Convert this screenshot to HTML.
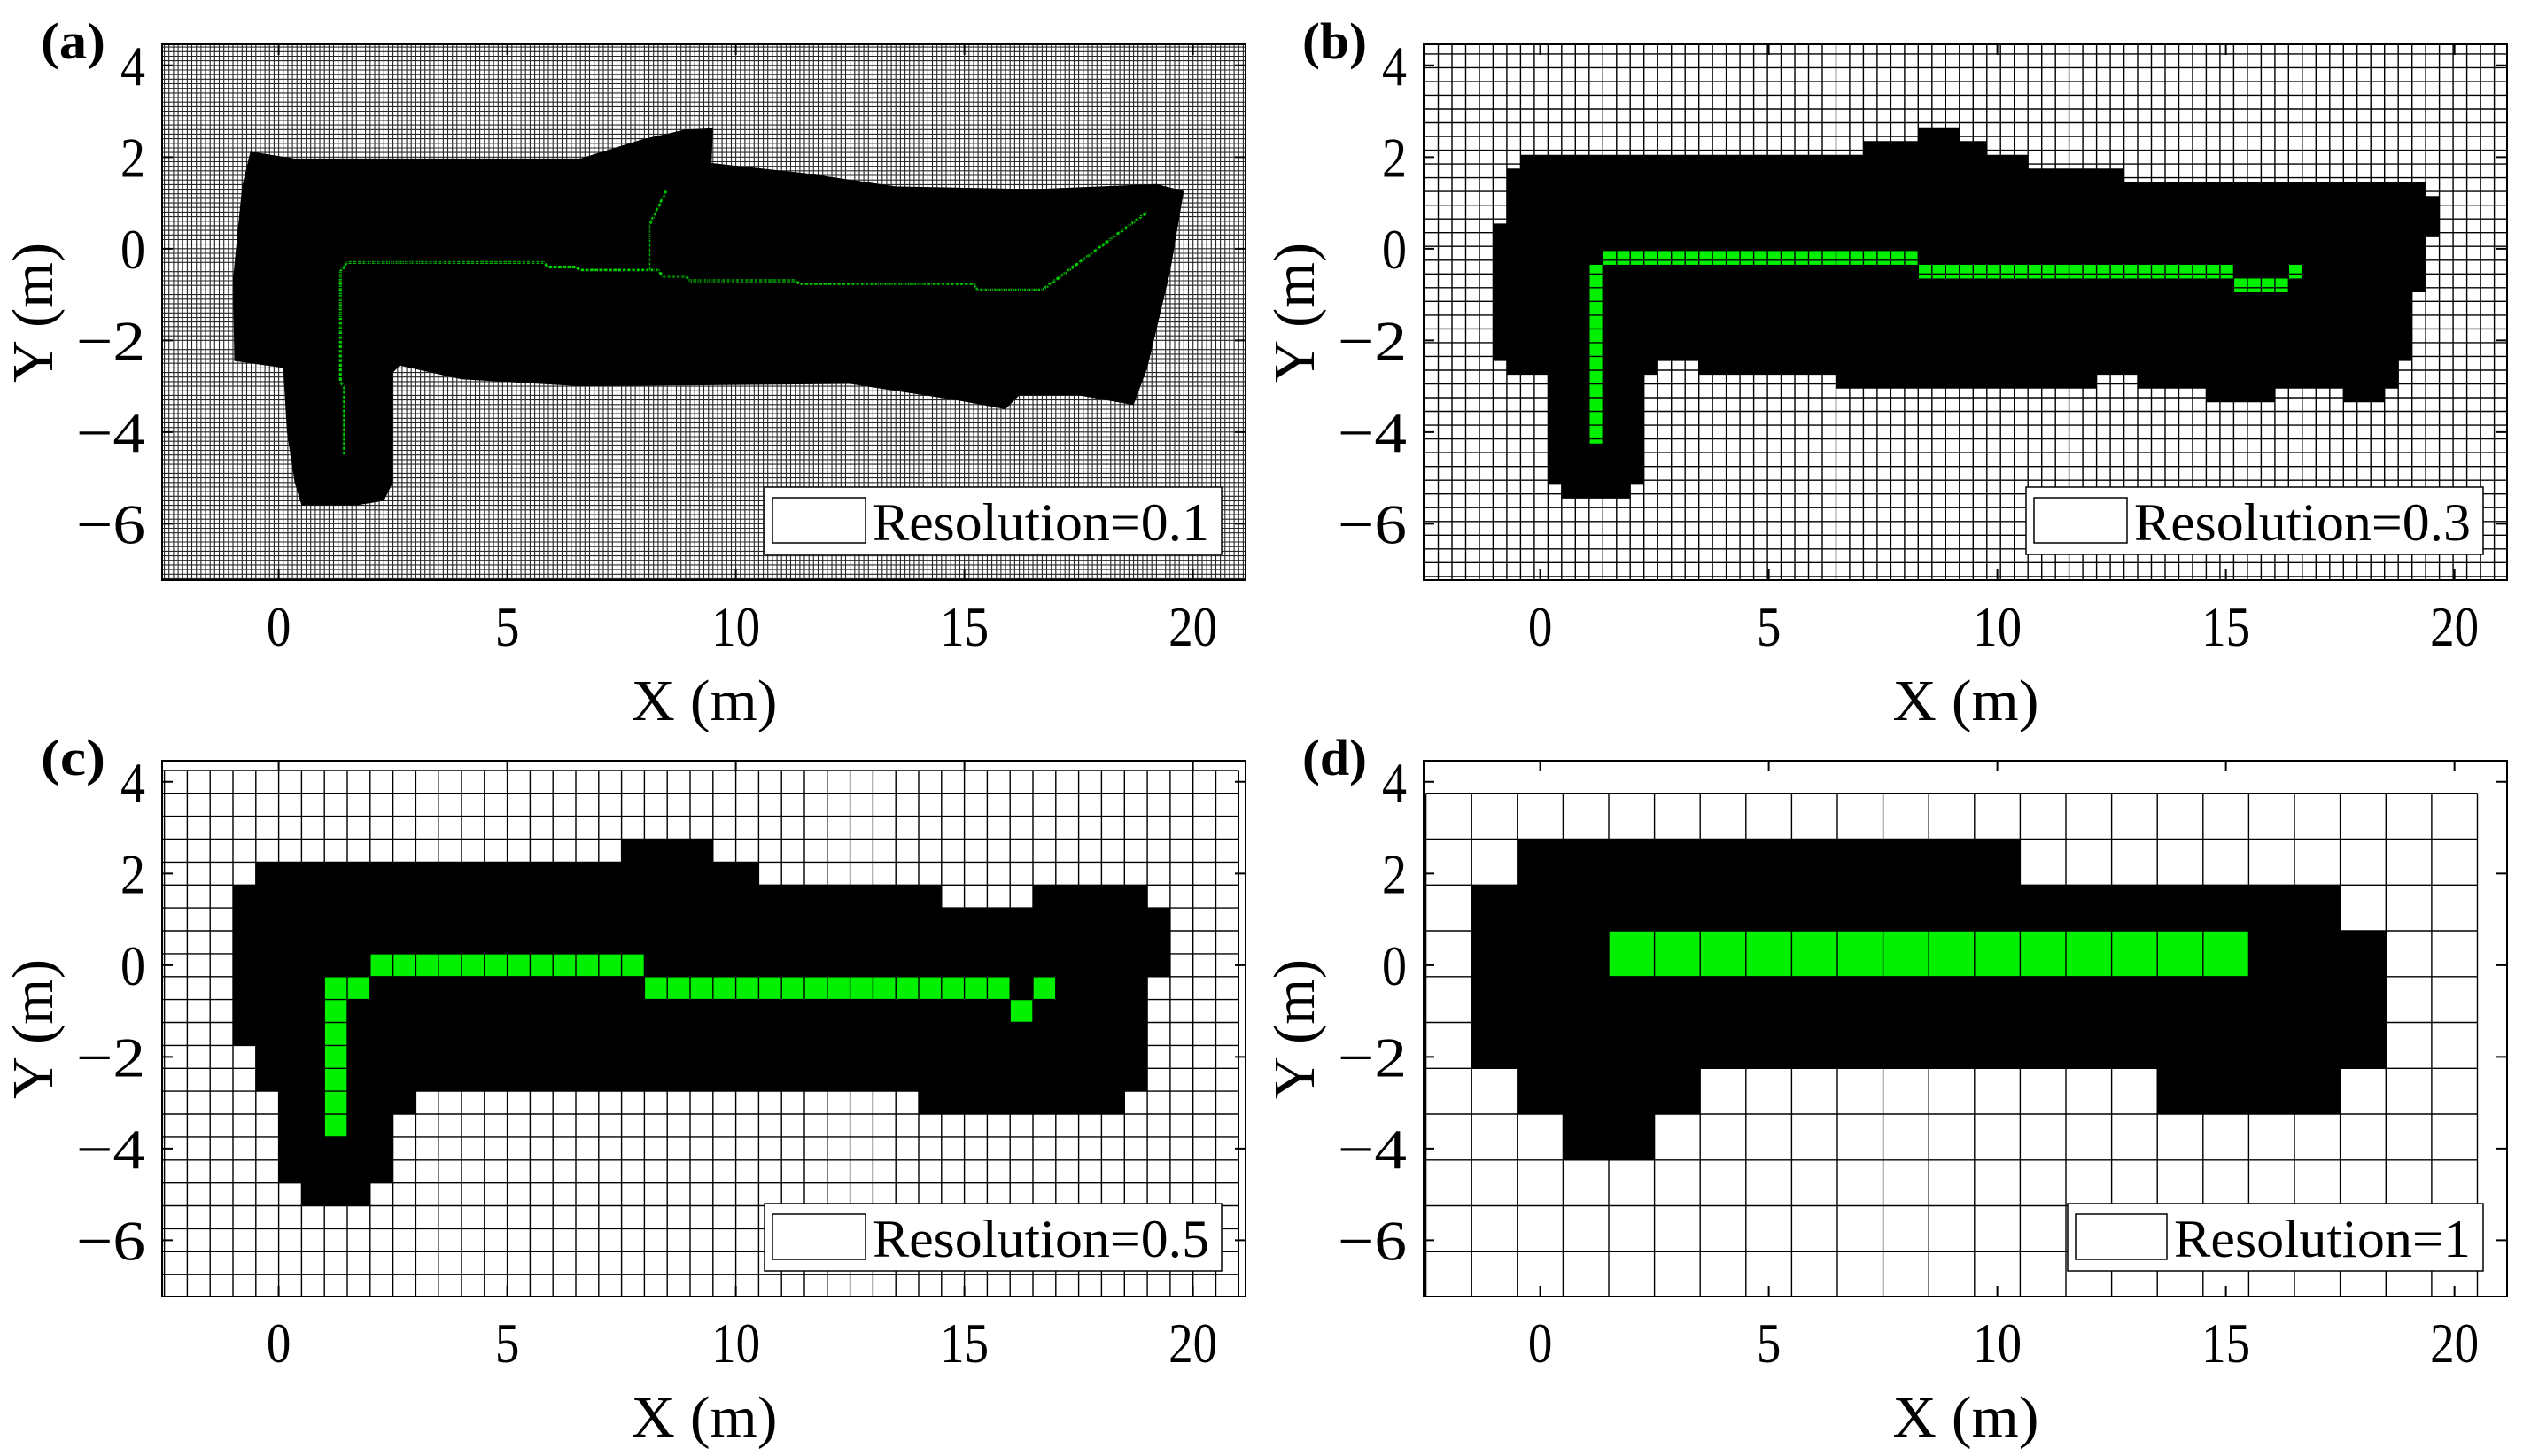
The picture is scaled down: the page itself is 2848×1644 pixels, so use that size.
<!DOCTYPE html>
<html><head><meta charset="utf-8"><style>
html,body{margin:0;padding:0;background:#fff}
svg{display:block}
text{font-family:"Liberation Serif",serif;fill:#000}
</style></head>
<body>
<svg id="fig" xmlns="http://www.w3.org/2000/svg" width="2848" height="1644" viewBox="0 0 2848 1644"></svg>
<script>
// ---- data ----
const xTicks = [0, 5, 10, 15, 20];
const yTicks = [4, 2, 0, -2, -4, -6];
const xTickLabels = ["0", "5", "10", "15", "20"];
const yTickLabels = ["4", "2", "0", "\u22122", "\u22124", "\u22126"];
const panelLabels = ["(a)", "(b)", "(c)", "(d)"];
const resolutions = [0.1, 0.3, 0.5, 1];
const legendTexts = ["Resolution=0.1", "Resolution=0.3", "Resolution=0.5", "Resolution=1"];

// occupied-region outlines (data units)
const occA_x = [-0.62,0.35,6.6,8.0,8.9,9.5,9.47,11.5,13.5,16.5,19.2,19.8,19.5,19.0,18.7,17.5,16.2,15.9,14.8,12.5,6.6,4.0,2.65,2.5,2.5,2.3,1.7,0.5,0.35,0.18,0.1,-0.97,-1.0,-0.8];
const occA_y = [2.12,1.97,1.97,2.4,2.6,2.63,1.87,1.65,1.36,1.3,1.41,1.26,-0.5,-2.6,-3.41,-3.2,-3.2,-3.5,-3.3,-2.95,-3.0,-2.85,-2.55,-2.7,-5.1,-5.5,-5.6,-5.6,-5.1,-4.0,-2.6,-2.45,-0.67,1.36];
const occB_x = [-0.43,7.07,7.07,8.27,8.27,9.17,9.17,9.77,9.77,10.67,10.67,12.77,12.77,19.37,19.37,19.67,19.67,19.37,19.37,19.07,19.07,18.77,18.77,18.47,18.47,17.57,17.57,16.07,16.07,14.57,14.57,13.07,13.07,12.17,12.17,6.47,6.47,3.47,3.47,2.57,2.57,2.27,2.27,1.97,1.97,0.47,0.47,0.17,0.17,-0.73,-0.73,-1.03,-1.03,-0.73,-0.73,-0.43];
const occB_y = [2.05,2.05,2.35,2.35,2.65,2.65,2.35,2.35,2.05,2.05,1.75,1.75,1.45,1.45,1.15,1.15,0.25,0.25,-0.95,-0.95,-2.45,-2.45,-3.05,-3.05,-3.35,-3.35,-3.05,-3.05,-3.35,-3.35,-3.05,-3.05,-2.75,-2.75,-3.05,-3.05,-2.75,-2.75,-2.45,-2.45,-2.75,-2.75,-5.15,-5.15,-5.45,-5.45,-5.15,-5.15,-2.75,-2.75,-2.45,-2.45,0.55,0.55,1.75,1.75];
const occC_x = [-0.5,7.5,7.5,9.5,9.5,10.5,10.5,14.5,14.5,16.5,16.5,19,19,19.5,19.5,19,19,18.5,18.5,14,14,3,3,2.5,2.5,2,2,0.5,0.5,0,0,-0.5,-0.5,-1,-1,-0.5];
const occC_y = [2.25,2.25,2.75,2.75,2.25,2.25,1.75,1.75,1.25,1.25,1.75,1.75,1.25,1.25,-0.25,-0.25,-2.75,-2.75,-3.25,-3.25,-2.75,-2.75,-3.25,-3.25,-4.75,-4.75,-5.25,-5.25,-4.75,-4.75,-2.75,-2.75,-1.75,-1.75,1.75,1.75];
const occD_x = [-0.5,10.5,10.5,17.5,17.5,18.5,18.5,17.5,17.5,13.5,13.5,3.5,3.5,2.5,2.5,0.5,0.5,-0.5,-0.5,-1.5,-1.5,-0.5];
const occD_y = [2.75,2.75,1.75,1.75,0.75,0.75,-2.25,-2.25,-3.25,-3.25,-2.25,-2.25,-3.25,-3.25,-4.25,-4.25,-3.25,-3.25,-2.25,-2.25,1.75,1.75];

// planned path (a) as vertices
const pathA_x = [1.42,1.42,1.35,1.35,1.5,5.8,5.9,6.5,6.6,8.3,8.4,8.9,9.0,11.3,11.4,15.2,15.3,16.7,19.0];
const pathA_y = [-4.5,-3.0,-2.9,-0.5,-0.3,-0.3,-0.4,-0.4,-0.47,-0.47,-0.6,-0.6,-0.7,-0.7,-0.77,-0.77,-0.9,-0.9,0.8];
const branchA_x = [8.1,8.1,8.5];
const branchA_y = [-0.47,0.5,1.3];

// path cell runs (x0,x1,y0,y1) for b, c, d
const pathB_x0 = [1.07,1.37,8.27,15.17,16.37];
const pathB_x1 = [1.37,8.27,15.17,16.37,16.67];
const pathB_y0 = [-4.25,-0.35,-0.65,-0.95,-0.65];
const pathB_y1 = [-0.35,-0.05,-0.35,-0.65,-0.35];
const pathC_x0 = [1,1.5,2,8,16,16.5];
const pathC_x1 = [1.5,2,8,16,16.5,17];
const pathC_y0 = [-3.75,-0.75,-0.25,-0.75,-1.25,-0.75];
const pathC_y1 = [-0.25,-0.25,0.25,-0.25,-0.75,-0.25];
const pathD_x0 = [1.5];
const pathD_x1 = [15.5];
const pathD_y0 = [-0.25];
const pathD_y1 = [0.75];

// ---- layout ----
const NS = "http://www.w3.org/2000/svg";
const svg = document.getElementById("fig");
const XMIN = -2.55, XMAX = 21.15, YMIN = -7.23, YMAX = 4.46;
const W = 1223, H = 605;
const panels = [
  {L:183, T:50, occX:occA_x, occY:occA_y, xoff:0, yoff:0, gx:[XMIN,XMAX], gy:[YMIN,YMAX], legX:863, legW:516, sw:105},
  {L:1607, T:50, occX:occB_x, occY:occB_y, xoff:0.17, yoff:0.05, gx:[XMIN,XMAX], gy:[YMIN,YMAX], legX:863, legW:516, sw:105,
   px0:pathB_x0, px1:pathB_x1, py0:pathB_y0, py1:pathB_y1},
  {L:183, T:859, occX:occC_x, occY:occC_y, xoff:0, yoff:0.25, gx:[XMIN,21.0], gy:[-7.25,4.25], legX:863, legW:516, sw:105,
   px0:pathC_x0, px1:pathC_x1, py0:pathC_y0, py1:pathC_y1},
  {L:1607, T:859, occX:occD_x, occY:occD_y, xoff:0.5, yoff:0.75, gx:[-2.5,20.5], gy:[-7.25,3.75], legX:910, legW:469, sw:103,
   px0:pathD_x0, px1:pathD_x1, py0:pathD_y0, py1:pathD_y1}
];
function mk(tag, attrs, parent){const e=document.createElementNS(NS,tag);for(const k in attrs)e.setAttribute(k,attrs[k]);(parent||svg).appendChild(e);return e;}

panels.forEach((p, i) => {
  const sx = x => p.L + (x - XMIN) * W / (XMAX - XMIN);
  const sy = y => p.T + (YMAX - y) * H / (YMAX - YMIN);
  const g = mk("g", {});
  
  
  const clip = mk("clipPath", {id:"clip"+i}, g);
  mk("rect", {x:p.L, y:p.T, width:W, height:H}, clip);
  const plot = mk("g", {"clip-path":"url(#clip"+i+")"}, g);
  // occupied region
  const pts = p.occX.map((x, k) => sx(x).toFixed(1) + "," + sy(p.occY[k]).toFixed(1)).join(" ");
  const occ = mk("polygon", {points:pts, fill:"#000"}, plot);
  
  
  // path
  if (i === 0) {
    [[pathA_x, pathA_y], [branchA_x, branchA_y]].forEach(([xs, ys]) => {
      const pl = mk("polyline", {points: xs.map((x,k)=>sx(x).toFixed(1)+","+sy(ys[k]).toFixed(1)).join(" "),
        fill:"none", stroke:"#00d000", "stroke-width":3.2, "stroke-dasharray":"4 1.3"}, plot);
      
      
    });
  } else {
    p.px0.forEach((x0, k) => {
      const r = mk("rect", {x:sx(x0), y:sy(p.py1[k]), width:sx(p.px1[k])-sx(x0), height:sy(p.py0[k])-sy(p.py1[k]), fill:"#00f000"}, plot);
      
      
    });
  }
  // grid
  const res = resolutions[i];
  let d = "";
  const x0 = p.gx[0], x1 = p.gx[1], y0 = p.gy[0], y1 = p.gy[1];
  for (let k = Math.ceil((x0 - p.xoff)/res - 1e-6); p.xoff + k*res <= x1 + 1e-6; k++) {
    const X = sx(p.xoff + k*res).toFixed(1);
    d += "M" + X + " " + sy(y0).toFixed(1) + "V" + sy(y1).toFixed(1);
  }
  for (let k = Math.ceil((y0 - p.yoff)/res - 1e-6); p.yoff + k*res <= y1 + 1e-6; k++) {
    const Y = sy(p.yoff + k*res).toFixed(1);
    d += "M" + sx(x0).toFixed(1) + " " + Y + "H" + sx(x1).toFixed(1);
  }
  const grid = mk("path", {d:d, fill:"none", stroke:"#000", "stroke-width": i===0 ? 1.1 : 1.4, opacity: i===0?0.85:1}, plot);
  
  
  // axes box
  const box = mk("rect", {x:p.L, y:p.T, width:W, height:H, fill:"none", stroke:"#000", "stroke-width":2}, g);
  
  
  // ticks
  let td = "";
  xTicks.forEach(v => { const X = sx(v); td += `M${X} ${p.T+H}v-12M${X} ${p.T}v12`; });
  yTicks.forEach(v => { const Y = sy(v); td += `M${p.L} ${Y}h12M${p.L+W} ${Y}h-12`; });
  mk("path", {d:td, stroke:"#000", "stroke-width":2, fill:"none"}, g);
  xTicks.forEach((v, k) => {
    const t = mk("text", {x:sx(v), y:p.T+H+74, "text-anchor":"middle", "font-size":64, textLength: xTickLabels[k].length*27.5, lengthAdjust:"spacingAndGlyphs"}, g);
    t.textContent = xTickLabels[k];
    
    
  });
  yTicks.forEach((v, k) => {
    const s = yTickLabels[k];
    const t = mk("text", {x:p.L-19, y:sy(v)+22, "text-anchor":"end", "font-size":64, textLength: s.length===1?28:78, lengthAdjust:"spacingAndGlyphs"}, g);
    t.textContent = s;
    
    
  });
  const xl = mk("text", {x:p.L+612, y:p.T+H+158, "text-anchor":"middle", "font-size":66, textLength:165, lengthAdjust:"spacingAndGlyphs"}, g);
  xl.textContent = "X (m)";
  
  
  const yl = mk("text", {x:0, y:0, "text-anchor":"middle", "font-size":66, textLength:158, lengthAdjust:"spacingAndGlyphs",
     transform:`translate(${p.L-124},${p.T+303}) rotate(-90)`}, g);
  yl.textContent = "Y (m)";
  
  
  const pl = mk("text", {x:p.L-137, y:p.T+16, "font-size":58, "font-weight":"bold", textLength:73, lengthAdjust:"spacingAndGlyphs"}, g);
  pl.textContent = panelLabels[i];
  
  
  // legend
  const lg = mk("g", {}, g);
  
  
  const lx = p.L - 183 + p.legX, ly = p.T + 500;
  mk("rect", {x:lx, y:ly, width:p.legW, height:76, fill:"#fff", stroke:"#000", "stroke-width":1.5}, lg);
  mk("rect", {x:lx+9, y:ly+12, width:p.sw, height:51, fill:"#fff", stroke:"#000", "stroke-width":1.5}, lg);
  const lt = mk("text", {x:lx+p.sw+17, y:ly+60, "font-size":60, textLength:p.legW-p.sw-31, lengthAdjust:"spacingAndGlyphs"}, lg);
  lt.textContent = legendTexts[i];
  
  
});
</script>
</body></html>
